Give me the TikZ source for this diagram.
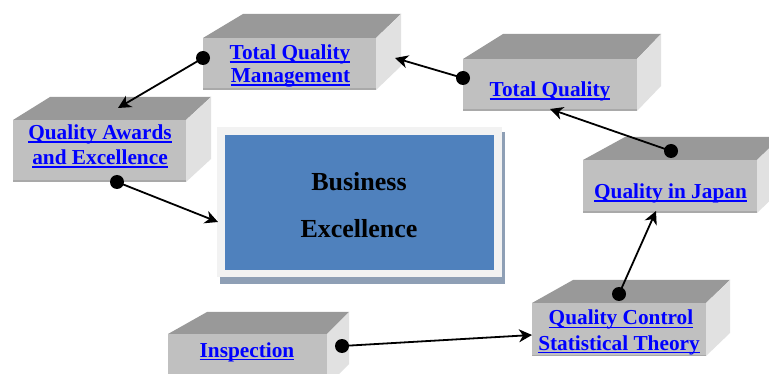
\documentclass[tikz,border=0pt]{standalone}
\usepackage{fontspec}
\setmainfont{Liberation Serif}
\usetikzlibrary{arrows.meta}
\newcommand\qul[1]{\setbox0\hbox{#1}\rlap{\vrule height -1.5pt depth 3pt width \wd0}\box0}
\definecolor{topc}{HTML}{999999}
\definecolor{frontc}{HTML}{C0C0C0}
\definecolor{sidec}{HTML}{E1E1E1}
\definecolor{edgec}{HTML}{A9A9A9}
\definecolor{qblue}{HTML}{0000FF}
\definecolor{bizblue}{HTML}{4F81BD}
\definecolor{framec}{HTML}{F2F2F2}
\definecolor{shadowc}{HTML}{8E9FB5}
% #1 x1, #2 y1, #3 x2, #4 y2, #5 dx left, #6 dx right, #7 depth
\newcommand\qbox[7]{%
  \fill[topc] (#1,#2) -- (#1+#5,#2-#7) -- (#3+#6,#2-#7) -- (#3,#2) -- cycle;
  \fill[sidec] (#3,#2) -- (#3+#6,#2-#7) -- (#3+#6,#4-#7) -- (#3,#4) -- cycle;
  \fill[frontc] (#1,#2) rectangle (#3,#4);
  \draw[edgec, line width=1.5pt] (#1,#4-0.75) -- (#3,#4-0.75);
}
\begin{document}
\begin{tikzpicture}[x=1pt, y=-1pt,
  lbl/.style={font=\fontsize{21.3}{24}\selectfont\bfseries, text=qblue, anchor=base, inner sep=0pt},
  biz/.style={font=\fontsize{26}{30}\selectfont\bfseries, text=black, anchor=base, inner sep=0pt},
  dot/.style={circle, fill=black, minimum size=14pt, inner sep=0pt},
  conn/.style={line width=1.8pt, -{Stealth[length=13pt, width=13pt, inset=4pt]}}]
\useasboundingbox (0,0) rectangle (769,374);
\clip (0,0) rectangle (769,374);
\fill[white] (0,0) rectangle (769,374);

% central box
\fill[shadowc] (220,132) rectangle (505,284);
\fill[framec] (217,127) rectangle (502,277);
\fill[bizblue] (225,135) rectangle (494,270);
\node[biz] (bizA) at (359,191) {Business};
\node[biz] (bizB) at (359,238) {Excellence};

% boxes
\qbox{203}{38}{376}{90}{40}{25}{24}
\qbox{463}{59}{637}{111}{40}{24}{25}
\qbox{13}{120}{186}{182}{37}{25}{23}
\qbox{583}{160}{757}{213}{42}{24}{23}
\qbox{532}{303}{706}{356}{41}{24}{23}
\qbox{168}{334}{327}{386}{39}{22}{22}

% labels
\node[lbl] (tqmA) at (290,60) {\qul{Total Quality}};
\node[lbl] (tqmB) at (290.5,83) {\qul{Management}};
\node[lbl] (tq) at (550,97) {\qul{Total Quality}};
\node[lbl] (qaA) at (100,140) {\qul{Quality Awards}};
\node[lbl] (qaB) at (100,165) {\qul{and Excellence}};
\node[lbl] (qij) at (670.5,199) {\qul{Quality in Japan}};
\node[lbl] (qcA) at (621,325) {\qul{Quality Control}};
\node[lbl] (qcB) at (619,350) {\qul{Statistical Theory}};
\node[lbl] (insp) at (247,357) {\qul{Inspection}};

% dots and arrow tips
\node[dot] (d1) at (203,58) {};
\node[dot] (d2) at (463,78) {};
\node[dot] (d3) at (671,151) {};
\node[dot] (d4) at (619,294) {};
\node[dot] (d5) at (342,346) {};
\node[dot] (d6) at (117,182) {};
\coordinate (t1) at (118,108);
\coordinate (t2) at (395,58);
\coordinate (t3) at (550,109);
\coordinate (t4) at (656,211);
\coordinate (t5) at (532,335);
\coordinate (t6) at (218,222);

\draw[conn] (d1.center) -- (t1);
\draw[conn] (d2.center) -- (t2);
\draw[conn] (d3.center) -- (t3);
\draw[conn] (d4.center) -- (t4);
\draw[conn] (d5.center) -- (t5);
\draw[conn] (d6.center) -- (t6);
\end{tikzpicture}
\end{document}
